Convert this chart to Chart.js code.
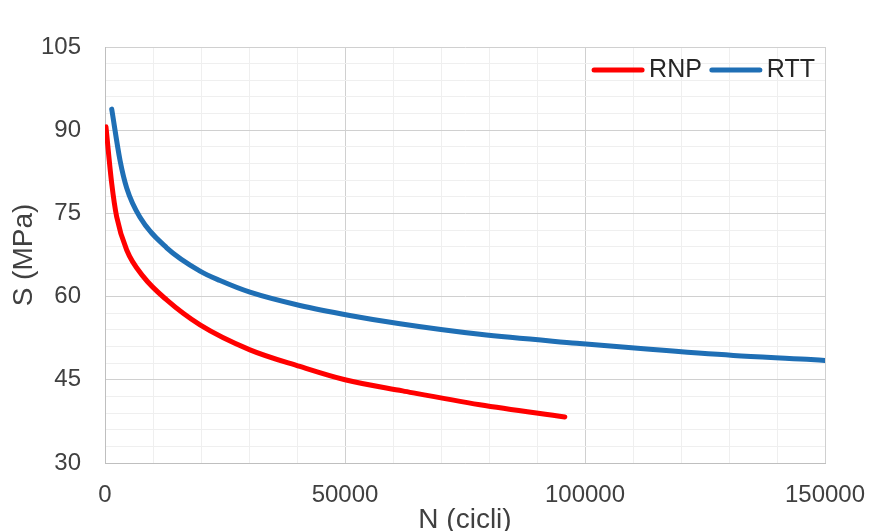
<!DOCTYPE html>
<html>
<head>
<meta charset="utf-8">
<script src="https://cdn.jsdelivr.net/npm/chart.js@4.4.1/dist/chart.umd.min.js"></script>
<style>
  html, body { margin: 0; padding: 0; background: #fff; }
  #wrap { width: 873px; height: 531px; }
</style>
</head>
<body>
<div id="wrap"><canvas id="curve"></canvas></div>
<script>
// Curve S-N: numero di cicli e tensione (MPa)
const rnpCycles = [200, 1400, 2430, 4520, 7990, 12850, 19800, 30200, 40600, 50000, 62000, 78100, 95800];
const rnpStress = [90.6, 80.4, 74.4, 68.4, 63.6, 59.4, 54.9, 50.4, 47.4, 45.0, 43.0, 40.5, 38.3];

const rttCycles = [1400, 3125, 4520, 7290, 12850, 19800, 23960, 30200, 40600, 51000, 61460, 78100, 98270, 113500, 130900, 146200, 150000];
const rttStress = [93.8, 84.6, 79.6, 74.3, 68.8, 64.6, 62.9, 60.8, 58.4, 56.6, 55.1, 53.2, 51.6, 50.5, 49.4, 48.7, 48.5];

const xMin = 0, xMax = 150000, xStep = 10000, xLabelEvery = 50000;
const yMin = 30, yMax = 105, yStep = 3, yLabelEvery = 15;

const toPoints = (xs, ys) => xs.map((x, i) => ({ x: x, y: ys[i] }));

const family = "'Liberation Sans', Arial, sans-serif";
const tickFont = { family: family, size: 24 };
const titleFont = { family: family, size: 28, lineHeight: 1 };

// legenda orizzontale dentro l'area del grafico, in alto a destra
const insideLegend = {
  id: 'insideLegend',
  afterDatasetsDraw(chart) {
    const ctx = chart.ctx;
    const area = chart.chartArea;
    const lineLen = 52, gapText = 5, gapItem = 8;
    const y = area.top + 23;
    ctx.save();
    ctx.font = '25px ' + family;
    ctx.textBaseline = 'middle';
    let x = area.right - 10;
    const items = chart.data.datasets.map(d => ({ label: d.label, color: d.borderColor }));
    for (let i = items.length - 1; i >= 0; i--) {
      const it = items[i];
      const w = ctx.measureText(it.label).width;
      x -= w;
      ctx.fillStyle = '#262626';
      ctx.fillText(it.label, x, y);
      x -= gapText;
      ctx.strokeStyle = it.color;
      ctx.lineWidth = 5;
      ctx.lineCap = 'round';
      ctx.beginPath();
      ctx.moveTo(x - lineLen + 2, y);
      ctx.lineTo(x - 2, y);
      ctx.stroke();
      x -= lineLen + gapItem;
    }
    ctx.restore();
  }
};

new Chart(document.getElementById('curve'), {
  type: 'line',
  data: {
    datasets: [
      {
        label: 'RNP',
        data: toPoints(rnpCycles, rnpStress),
        borderColor: '#ff0000',
        borderWidth: 5,
        borderCapStyle: 'round',
        pointRadius: 0,
        cubicInterpolationMode: 'monotone'
      },
      {
        label: 'RTT',
        data: toPoints(rttCycles, rttStress),
        borderColor: '#1f6fb5',
        borderWidth: 5,
        borderCapStyle: 'round',
        pointRadius: 0,
        cubicInterpolationMode: 'monotone'
      }
    ]
  },
  options: {
    responsive: true,
    maintainAspectRatio: false,
    animation: false,
    layout: { padding: { left: 10, right: 48, top: 47, bottom: 0 } },
    scales: {
      x: {
        type: 'linear',
        min: xMin,
        max: xMax,
        afterFit: s => { s.height = 68; s.paddingLeft = 0; s.paddingRight = 0; },
        ticks: {
          stepSize: xStep,
          autoSkip: false,
          maxRotation: 0,
          padding: 18,
          color: '#404040',
          font: tickFont,
          callback: v => (v % xLabelEvery === 0 ? String(v) : '')
        },
        grid: {
          drawTicks: false,
          color: c => (c.tick && c.tick.value % xLabelEvery === 0 ? '#d0d0d0' : '#efefef')
        },
        border: { color: '#bfbfbf' },
        title: { display: true, text: 'N (cicli)', color: '#404040', font: titleFont, padding: { top: 0, bottom: -3 } }
      },
      y: {
        min: yMin,
        max: yMax,
        afterFit: s => { s.width = 95; s.paddingTop = 0; s.paddingBottom = 0; },
        ticks: {
          stepSize: yStep,
          autoSkip: false,
          padding: 24,
          color: '#404040',
          font: tickFont,
          callback: v => (v % yLabelEvery === 0 ? String(v) : '')
        },
        grid: {
          drawTicks: false,
          color: c => (c.tick && c.tick.value % yLabelEvery === 0 ? '#d0d0d0' : '#efefef')
        },
        border: { color: '#bfbfbf' },
        title: { display: true, text: 'S (MPa)', color: '#404040', font: titleFont, padding: 0 }
      }
    },
    plugins: {
      legend: { display: false },
      tooltip: { enabled: false }
    }
  },
  plugins: [insideLegend]
});
</script>
</body>
</html>
